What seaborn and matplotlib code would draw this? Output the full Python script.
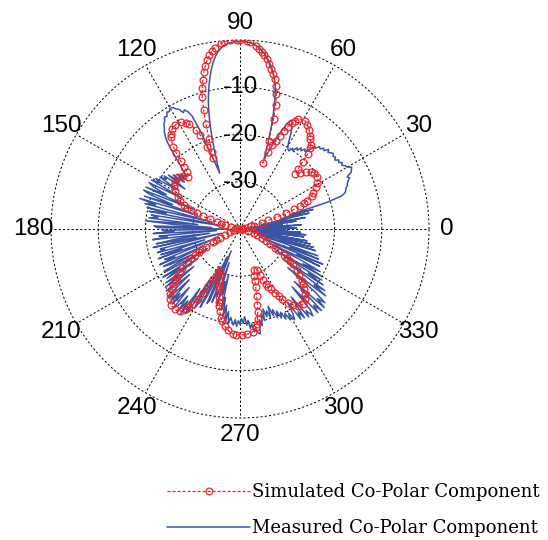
import numpy as np
import pandas as pd
import seaborn as sns
import matplotlib.pyplot as plt

# angle grid of the pattern cut, degrees
angles_deg = np.arange(0, 360)

# simulated co-polar component, dB (1 degree steps)
simulated_db = [
    -39.8, -39.9, -39.7, -39.5, -39.3, -39.2, -39.0, -38.9, -38.8, -38.6,
    -38.5, -38.3, -38.0, -37.6, -37.0, -36.2, -35.2, -33.8, -31.8, -29.6,
    -27.8, -26.4, -25.4, -24.6, -23.9, -23.3, -22.8, -22.4, -22.0, -21.6,
    -21.2, -20.9, -20.6, -20.4, -20.3, -20.2, -20.2, -20.3, -20.5, -20.8,
    -21.2, -21.6, -22.1, -22.6, -23.1, -23.4, -22.4, -20.6, -18.6, -17.4,
    -16.7, -16.2, -15.8, -15.3, -14.9, -14.5, -14.1, -13.8, -13.5, -13.3,
    -13.3, -13.4, -13.7, -14.3, -15.1, -16.1, -17.3, -18.6, -19.8, -21.0,
    -22.6, -25.2, -20.4, -15.6, -12.6, -10.4, -8.8, -7.5, -6.4, -5.4,
    -4.5, -3.6, -2.9, -2.2, -1.6, -1.1, -0.7, -0.4, -0.2, -0.1,
    0.0, 0.0, 0.0, 0.0, -0.1, -0.3, -0.5, -0.8, -1.3, -1.9,
    -2.7, -3.6, -4.7, -5.9, -7.4, -9.1, -11.0, -13.6, -16.6, -19.8,
    -22.6, -24.0, -21.2, -18.4, -17.0, -16.0, -15.3, -14.8, -14.4, -14.2,
    -14.0, -14.0, -14.1, -14.2, -14.4, -14.7, -15.1, -15.7, -16.5, -17.6,
    -19.0, -20.8, -22.4, -23.6, -24.2, -24.4, -24.0, -23.6, -23.3, -23.0,
    -22.9, -22.8, -22.8, -22.8, -22.9, -23.0, -23.2, -23.4, -23.6, -23.8,
    -24.1, -24.4, -24.8, -25.2, -25.6, -26.0, -26.5, -27.1, -27.9, -28.8,
    -30.2, -31.8, -33.4, -34.8, -35.9, -36.8, -37.5, -38.0, -38.4, -38.8,
    -39.1, -39.3, -39.5, -39.7, -39.8, -39.9, -40.0, -40.0, -40.0, -40.0,
    -40.0, -40.0, -40.0, -39.9, -39.9, -39.8, -39.7, -39.5, -39.3, -39.1,
    -39.0, -38.9, -38.8, -38.7, -38.6, -38.4, -38.2, -38.0, -37.7, -37.4,
    -37.0, -36.6, -36.0, -35.3, -34.5, -33.6, -32.7, -31.8, -30.9, -30.0,
    -29.0, -28.0, -27.0, -26.1, -25.3, -24.6, -23.9, -23.2, -22.6, -22.0,
    -21.4, -20.8, -20.2, -19.7, -19.3, -19.0, -18.7, -18.5, -18.3, -18.2,
    -18.1, -18.1, -18.2, -18.3, -18.5, -18.9, -19.5, -20.3, -21.2, -22.6,
    -24.3, -26.2, -28.0, -29.8, -30.8, -30.2, -29.4, -28.8, -28.3, -27.8,
    -27.2, -26.6, -25.8, -24.9, -24.0, -23.1, -22.2, -21.4, -20.7, -20.1,
    -19.6, -19.2, -18.8, -18.5, -18.2, -18.0, -17.8, -17.7, -17.6, -17.6,
    -17.6, -17.6, -17.6, -17.6, -17.7, -17.8, -17.9, -18.1, -18.4, -18.9,
    -19.6, -20.6, -22.0, -23.6, -25.4, -27.2, -28.6, -29.6, -30.3, -30.8,
    -31.1, -31.3, -30.6, -29.4, -28.1, -27.2, -26.4, -25.7, -25.1, -24.6,
    -23.6, -22.6, -21.9, -21.3, -20.8, -20.4, -20.0, -19.7, -19.5, -19.3,
    -19.3, -19.3, -19.5, -19.8, -20.1, -20.5, -20.9, -21.4, -21.9, -22.4,
    -23.0, -23.5, -24.1, -24.6, -25.2, -25.9, -26.6, -27.4, -28.3, -29.2,
    -30.1, -30.9, -31.6, -32.3, -32.9, -33.5, -34.0, -34.5, -34.9, -35.3,
    -35.7, -36.1, -36.5, -36.9, -37.3, -37.6, -37.9, -38.2, -38.5, -38.7,
    -38.9, -39.1, -39.3, -39.4, -39.5, -39.6, -39.7, -39.7, -39.8, -39.8,
]

# measured co-polar component, dB (1 degree steps)
measured_db = [
    -33.0, -28.0, -37.0, -30.5, -27.0, -35.0, -31.0, -38.0, -28.0, -33.0,
    -26.0, -35.5, -32.0, -25.0, -31.0, -24.0, -29.0, -21.0, -17.5, -16.5,
    -16.2, -16.0, -15.5, -15.3, -15.0, -14.4, -14.8, -13.6, -13.3, -13.0,
    -13.8, -14.0, -14.6, -14.2, -14.8, -14.5, -15.2, -14.7, -15.0, -14.6,
    -14.9, -15.3, -14.8, -15.7, -15.4, -16.0, -15.8, -16.6, -16.4, -17.6,
    -18.6, -18.2, -19.0, -18.5, -19.4, -19.0, -20.0, -19.6, -20.5, -20.3,
    -19.8, -18.6, -17.0, -15.8, -15.0, -14.6, -15.6, -17.4, -19.0, -20.8,
    -22.8, -24.2, -21.0, -17.3, -14.2, -11.4, -9.2, -7.6, -6.2, -5.1,
    -4.1, -3.3, -2.6, -2.0, -1.4, -1.0, -0.7, -0.5, -0.4, -0.3,
    -0.3, -0.3, -0.4, -0.5, -0.7, -1.0, -1.5, -2.1, -3.0, -4.1,
    -5.4, -6.9, -8.6, -10.4, -12.3, -14.6, -17.0, -19.6, -22.4, -25.0,
    -27.4, -23.5, -18.0, -14.0, -12.8, -12.2, -12.6, -11.6, -11.2, -10.6,
    -10.4, -11.0, -10.8, -11.6, -11.4, -12.2, -12.6, -13.4, -14.0, -14.9,
    -16.2, -18.0, -19.8, -21.4, -22.6, -23.4, -24.0, -23.0, -24.2, -22.4,
    -24.6, -21.8, -23.8, -21.0, -25.6, -20.4, -21.2, -19.8, -24.4, -19.2,
    -20.4, -18.6, -26.0, -18.4, -19.6, -22.8, -18.2, -29.5, -18.0, -19.4,
    -24.8, -18.6, -30.6, -17.8, -21.4, -19.2, -33.8, -19.8, -24.0, -20.4,
    -36.5, -21.0, -22.4, -20.6, -31.0, -20.0, -25.5, -34.0, -21.8, -22.5,
    -37.0, -23.6, -26.0, -21.6, -35.0, -22.8, -24.5, -21.4, -33.5, -26.0,
    -22.0, -30.5, -21.2, -36.0, -22.6, -23.5, -21.8, -32.2, -22.4, -27.0,
    -21.6, -34.5, -22.8, -25.0, -21.4, -31.4, -22.0, -23.5, -28.5, -21.6,
    -22.2, -32.0, -20.8, -24.6, -21.4, -29.0, -20.6, -23.8, -20.0, -27.4,
    -19.6, -21.0, -25.6, -19.4, -19.0, -24.8, -18.8, -21.4, -18.6, -23.6,
    -18.2, -19.0, -22.0, -18.4, -21.2, -18.0, -24.8, -18.6, -20.0, -27.4,
    -21.0, -22.0, -31.0, -21.4, -24.5, -33.5, -22.8, -23.6, -35.0, -23.4,
    -26.0, -24.8, -32.5, -23.0, -28.4, -25.6, -30.0, -22.4, -25.2, -21.0,
    -23.6, -20.2, -22.4, -19.8, -21.2, -20.4, -19.6, -20.8, -19.4, -20.6,
    -19.8, -21.0, -20.0, -21.4, -19.6, -20.6, -18.8, -19.8, -18.0, -18.6,
    -17.6, -17.4, -20.4, -19.0, -21.6, -20.0, -22.4, -20.6, -21.8, -20.2,
    -22.6, -20.4, -21.6, -19.6, -21.0, -19.2, -20.4, -18.6, -19.8, -18.0,
    -19.4, -17.6, -18.8, -21.5, -17.0, -18.6, -16.8, -22.0, -16.4, -17.8,
    -16.0, -17.4, -23.5, -15.8, -17.6, -15.6, -24.0, -15.6, -18.0, -16.2,
    -19.2, -27.0, -17.0, -20.4, -17.8, -29.0, -18.8, -22.8, -19.6, -31.0,
    -20.2, -24.8, -20.8, -25.6, -33.0, -21.4, -26.8, -21.0, -35.0, -22.2,
    -28.8, -22.6, -30.0, -36.0, -23.4, -31.2, -24.0, -37.0, -24.8, -33.6,
    -25.6, -34.0, -38.0, -26.4, -35.2, -26.0, -37.5, -27.2, -35.4, -30.4,
]

theta_ticks = [0, 30, 60, 90, 120, 150, 180, 210, 240, 270, 300, 330]
r_levels = [-30, -20, -10]
legend_labels = ['Simulated Co-Polar Component', 'Measured Co-Polar Component']

RED = '#e8262b'
BLUE = '#3a55a6'


def closed_frame(values):
    # repeat the first sample at 360 deg so the pattern closes
    theta = np.deg2rad(list(angles_deg) + [360])
    return pd.DataFrame({'theta': theta, 'db': list(values) + [values[0]]})


sns.set_style('white')
plt.rcParams['font.family'] = ['Liberation Sans', 'DejaVu Sans']
plt.rcParams['text.color'] = 'black'
plt.rcParams['xtick.color'] = 'black'

fig = plt.figure(figsize=(5.48, 5.40), dpi=100)
ax = fig.add_axes([0.0931, 0.2259, 0.6898, 0.700], projection='polar')

sns.lineplot(data=closed_frame(measured_db), x='theta', y='db', ax=ax,
             sort=False, color=BLUE, linewidth=1.1, label=legend_labels[1])
# markers roughly evenly spaced along the curve, like the original figure
sns.lineplot(data=closed_frame(simulated_db), x='theta', y='db', ax=ax,
             sort=False, color=RED, linewidth=0.9, linestyle=(0, (2.5, 1.5)),
             marker='o', markersize=4.9, markevery=0.0098,
             markerfacecolor='none', markeredgecolor=RED,
             markeredgewidth=0.9, label=legend_labels[0])
if ax.get_legend() is not None:
    ax.get_legend().remove()

ax.set_rlim(-40, 0)
ax.set_yticks(r_levels + [0])
ax.set_yticklabels([])
ax.set_xticks(np.deg2rad(theta_ticks))
ax.set_xticklabels([str(t) for t in theta_ticks], fontsize=17.5, color='black')
ax.tick_params(axis='x', pad=2)
ax.set_xlabel('')
ax.set_ylabel('')
ax.spines['polar'].set_visible(False)
ax.grid(True, color='black', linestyle=(0, (2.2, 2.2)), linewidth=0.7)
for gl in ax.yaxis.get_gridlines():
    gl.set_clip_on(False)

for lvl in r_levels:
    ax.text(np.pi / 2, lvl, str(lvl), ha='center', va='center', fontsize=17.5,
            color='black')

handles, labels = ax.get_legend_handles_labels()
order = [labels.index(l) for l in legend_labels]
leg = fig.legend([handles[i] for i in order], legend_labels, loc='upper left',
                 bbox_to_anchor=(0.305, 0.105), frameon=False, borderpad=0,
                 borderaxespad=0, handlelength=4.6, handletextpad=0.1,
                 labelspacing=1.0, numpoints=1,
                 prop={'family': 'DejaVu Serif', 'size': 13})
for txt in leg.get_texts():
    txt.set_color('black')

fig.savefig('out.png', dpi=100, facecolor='white')
